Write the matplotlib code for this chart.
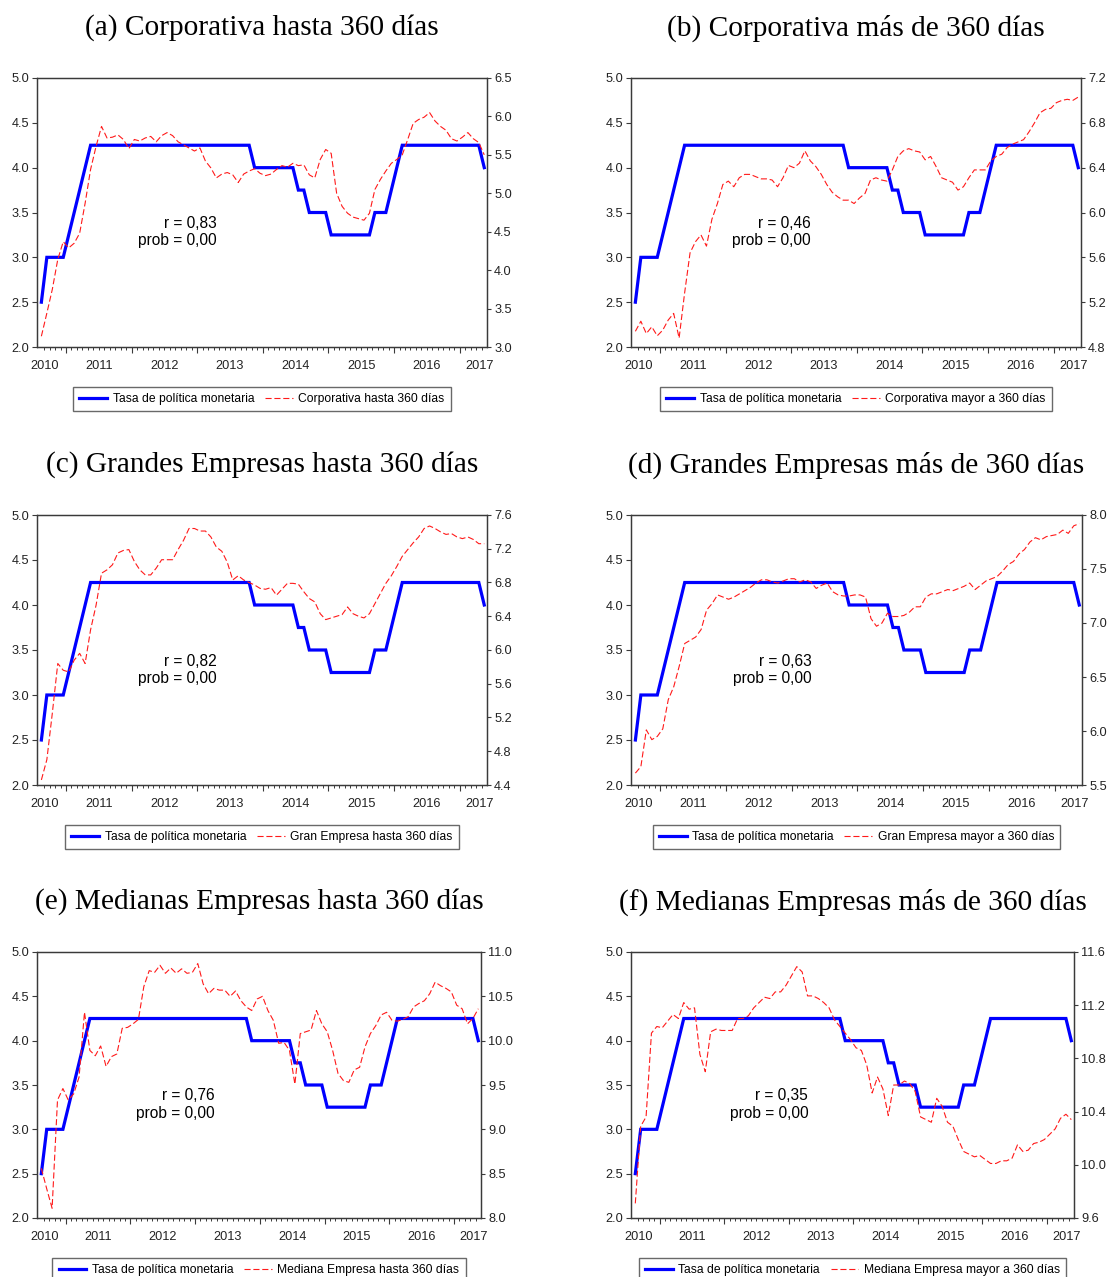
import numpy as np
import pandas as pd
import matplotlib
matplotlib.use("Agg")
import matplotlib.pyplot as plt
from matplotlib.ticker import FormatStrFormatter

plt.rcParams["font.family"] = ["Liberation Sans", "DejaVu Sans"]

# ---------- data (monthly, 2010M08 - 2017M05) ----------
START, END = "2010-08", "2017-05"

tasa_politica = [
    2.50, 3.00, 3.00, 3.00, 3.00, 3.25, 3.50, 3.75, 4.00, 4.25,
    4.25, 4.25, 4.25, 4.25, 4.25, 4.25, 4.25, 4.25, 4.25, 4.25,
    4.25, 4.25, 4.25, 4.25, 4.25, 4.25, 4.25, 4.25, 4.25, 4.25,
    4.25, 4.25, 4.25, 4.25, 4.25, 4.25, 4.25, 4.25, 4.25, 4.00,
    4.00, 4.00, 4.00, 4.00, 4.00, 4.00, 4.00, 3.75, 3.75, 3.50,
    3.50, 3.50, 3.50, 3.25, 3.25, 3.25, 3.25, 3.25, 3.25, 3.25,
    3.25, 3.50, 3.50, 3.50, 3.75, 4.00, 4.25, 4.25, 4.25, 4.25,
    4.25, 4.25, 4.25, 4.25, 4.25, 4.25, 4.25, 4.25, 4.25, 4.25,
    4.25, 4.00,
]

corp_hasta_360 = [
    3.14, 3.44, 3.75, 4.14, 4.37, 4.29, 4.35, 4.48, 4.87, 5.31,
    5.61, 5.87, 5.72, 5.73, 5.76, 5.70, 5.58, 5.70, 5.68, 5.72,
    5.74, 5.67, 5.75, 5.79, 5.75, 5.67, 5.63, 5.59, 5.55, 5.59,
    5.42, 5.33, 5.20, 5.25, 5.27, 5.24, 5.14, 5.25, 5.29, 5.32,
    5.26, 5.23, 5.25, 5.31, 5.36, 5.34, 5.39, 5.36, 5.37, 5.24,
    5.20, 5.44, 5.57, 5.52, 5.00, 4.83, 4.74, 4.69, 4.67, 4.65,
    4.74, 5.05, 5.18, 5.29, 5.39, 5.44, 5.50, 5.70, 5.91, 5.96,
    5.99, 6.05, 5.94, 5.87, 5.82, 5.71, 5.68, 5.73, 5.79, 5.71,
    5.66, 5.50,
]

corp_mayor_360 = [
    4.94, 5.03, 4.92, 4.98, 4.90, 4.95, 5.04, 5.10, 4.88, 5.28,
    5.64, 5.74, 5.80, 5.70, 5.94, 6.08, 6.25, 6.28, 6.23, 6.31,
    6.34, 6.34, 6.32, 6.30, 6.30, 6.29, 6.23, 6.31, 6.42, 6.40,
    6.44, 6.55, 6.46, 6.41, 6.34, 6.25, 6.18, 6.14, 6.11, 6.11,
    6.08, 6.13, 6.17, 6.29, 6.31, 6.29, 6.28, 6.38, 6.50, 6.55,
    6.57, 6.55, 6.54, 6.47, 6.50, 6.41, 6.31, 6.29, 6.27, 6.20,
    6.23, 6.31, 6.38, 6.38, 6.38, 6.46, 6.50, 6.52, 6.58, 6.61,
    6.63, 6.65, 6.72, 6.80, 6.89, 6.92, 6.93, 6.98, 7.00, 7.01,
    7.00, 7.03,
]

gran_hasta_360 = [
    4.46, 4.70, 5.25, 5.84, 5.76, 5.74, 5.88, 5.96, 5.84, 6.24,
    6.53, 6.91, 6.95, 7.01, 7.15, 7.18, 7.19, 7.05, 6.95, 6.89,
    6.89, 6.97, 7.07, 7.07, 7.07, 7.19, 7.30, 7.44, 7.44, 7.41,
    7.41, 7.34, 7.22, 7.17, 7.04, 6.83, 6.88, 6.83, 6.80, 6.77,
    6.73, 6.72, 6.74, 6.65, 6.72, 6.79, 6.79, 6.78, 6.69, 6.61,
    6.57, 6.43, 6.36, 6.38, 6.40, 6.42, 6.51, 6.43, 6.40, 6.38,
    6.43, 6.55, 6.67, 6.79, 6.88, 6.99, 7.11, 7.19, 7.27, 7.34,
    7.44, 7.47, 7.44, 7.40, 7.37, 7.38, 7.34, 7.32, 7.34, 7.31,
    7.26, 7.26,
]

gran_mayor_360 = [
    5.61, 5.67, 6.01, 5.92, 5.95, 6.02, 6.29, 6.41, 6.60, 6.81,
    6.84, 6.87, 6.94, 7.12, 7.18, 7.26, 7.24, 7.22, 7.24, 7.27,
    7.30, 7.33, 7.37, 7.40, 7.40, 7.38, 7.37, 7.39, 7.41, 7.41,
    7.38, 7.40, 7.38, 7.32, 7.35, 7.37, 7.29, 7.26, 7.25, 7.25,
    7.26, 7.26, 7.24, 7.04, 6.97, 7.00, 7.09, 7.06, 7.06, 7.07,
    7.10, 7.15, 7.15, 7.24, 7.27, 7.27, 7.29, 7.31, 7.30, 7.32,
    7.34, 7.37, 7.31, 7.35, 7.39, 7.41, 7.43, 7.48, 7.54, 7.57,
    7.64, 7.68, 7.75, 7.79, 7.77, 7.80, 7.81, 7.82, 7.86, 7.83,
    7.90, 7.92,
]

mediana_hasta_360 = [
    8.56, 8.33, 8.11, 9.33, 9.46, 9.33, 9.40, 9.59, 10.32, 9.89,
    9.83, 9.94, 9.71, 9.82, 9.85, 10.14, 10.15, 10.19, 10.24, 10.61,
    10.79, 10.77, 10.85, 10.76, 10.82, 10.76, 10.81, 10.76, 10.77, 10.87,
    10.64, 10.53, 10.59, 10.57, 10.57, 10.50, 10.56, 10.45, 10.38, 10.34,
    10.47, 10.50, 10.34, 10.23, 9.97, 9.98, 9.89, 9.51, 10.08, 10.10,
    10.12, 10.34, 10.19, 10.10, 9.89, 9.63, 9.55, 9.53, 9.67, 9.70,
    9.93, 10.08, 10.17, 10.29, 10.32, 10.23, 10.22, 10.24, 10.27, 10.38,
    10.42, 10.45, 10.53, 10.66, 10.62, 10.59, 10.55, 10.40, 10.36, 10.19,
    10.25, 10.36,
]

mediana_mayor_360 = [
    9.71, 10.29, 10.36, 10.99, 11.04, 11.03, 11.08, 11.13, 11.10, 11.22,
    11.17, 11.18, 10.83, 10.70, 11.00, 11.02, 11.01, 11.01, 11.01, 11.10,
    11.10, 11.12, 11.18, 11.22, 11.26, 11.25, 11.30, 11.30, 11.35, 11.42,
    11.49, 11.45, 11.27, 11.27, 11.25, 11.22, 11.18, 11.09, 11.04, 10.99,
    10.94, 10.88, 10.86, 10.75, 10.54, 10.66, 10.57, 10.37, 10.60, 10.60,
    10.63, 10.61, 10.55, 10.36, 10.34, 10.32, 10.50, 10.44, 10.32, 10.29,
    10.19, 10.10, 10.08, 10.06, 10.07, 10.04, 10.01, 10.01, 10.03, 10.03,
    10.05, 10.15, 10.10, 10.11, 10.16, 10.17, 10.19, 10.23, 10.27, 10.35,
    10.38, 10.34,
]

titles = [
    "(a) Corporativa hasta 360 días", "(b) Corporativa más de 360 días",
    "(c) Grandes Empresas hasta 360 días", "(d) Grandes Empresas más de 360 días",
    "(e) Medianas Empresas hasta 360 días", "(f) Medianas Empresas más de 360 días",
]
series_labels = [
    "Corporativa hasta 360 días", "Corporativa mayor a 360 días",
    "Gran Empresa hasta 360 días", "Gran Empresa mayor a 360 días",
    "Mediana Empresa hasta 360 días", "Mediana Empresa mayor a 360 días",
]
series = [corp_hasta_360, corp_mayor_360, gran_hasta_360,
          gran_mayor_360, mediana_hasta_360, mediana_mayor_360]
corr_r = ["0,83", "0,46", "0,82", "0,63", "0,76", "0,35"]
corr_prob = ["0,00"] * 6
right_limits = [(3.0, 6.5, 0.5), (4.8, 7.2, 0.4), (4.4, 7.6, 0.4),
                (5.5, 8.0, 0.5), (8.0, 11.0, 0.5), (9.6, 11.6, 0.4)]

# ---------- layout (pixels, top-left origin) ----------
W, H = 1112, 1277
AX_RECTS = [
    (37, 78, 487, 347), (631, 78, 1081, 347),
    (37, 515, 487, 785), (631, 515, 1082, 785),
    (37, 952, 481, 1218), (631, 952, 1074, 1218),
]
TITLE_Y = [28, 28, 465, 465, 902, 902]
BLUE = "#0000ff"
RED = "#ff1a1a"
FRAME = "#3a3a3a"


def px_rect(l, t, r, b):
    return [l / W, 1 - b / H, (r - l) / W, (b - t) / H]


def draw_panel(fig, k):
    l, t, r, b = AX_RECTS[k]
    ax = fig.add_axes(px_rect(l, t, r, b))
    ax2 = ax.twinx()

    periods = pd.period_range(START, END, freq="M")
    x = np.arange(len(periods))
    years = periods.year.to_numpy()

    ln1, = ax.plot(x, tasa_politica, color=BLUE, lw=2.3,
                   solid_joinstyle="miter", zorder=3)
    ln2, = ax2.plot(x, series[k], color=RED, lw=0.8,
                    linestyle=(0, (5.5, 2.5)), zorder=4)

    xlo, xhi = -0.8, len(x) - 0.5
    ax.set_xlim(xlo, xhi)
    ax.set_ylim(2.0, 5.0)
    ax.set_yticks(np.arange(2.0, 5.01, 0.5))
    ax.yaxis.set_major_formatter(FormatStrFormatter("%.1f"))

    lo, hi, step = right_limits[k]
    ax2.set_ylim(lo, hi)
    ax2.set_yticks(np.arange(lo, hi + step / 2, step))
    ax2.yaxis.set_major_formatter(FormatStrFormatter("%.1f"))

    # year boundaries = major ticks, months = minor ticks
    bounds = x[1:][np.diff(years) != 0] - 0.5
    ax.set_xticks(bounds)
    ax.set_xticklabels([])
    ax.set_xticks(x[1:] - 0.5, minor=True)
    ax.tick_params(axis="x", which="major", direction="out", length=4.3,
                   width=0.8, color=FRAME)
    ax.tick_params(axis="x", which="minor", direction="out", length=2.2,
                   width=0.7, color=FRAME)
    ax.tick_params(axis="y", direction="out", length=3.6, width=0.8,
                   color=FRAME, labelsize=9.2, pad=2, labelcolor="#222222")
    ax2.tick_params(axis="y", direction="out", length=3.2, width=0.8,
                    color=FRAME, labelsize=9.2, pad=2, labelcolor="#222222")

    # year labels centred in each year's span
    uniq = np.unique(years)
    for j, yr in enumerate(uniq):
        idx = x[years == yr]
        if j == 0:
            pos = xlo + 1.4
        elif j == len(uniq) - 1:
            pos = xhi - 1.4
        else:
            pos = (idx[0] + idx[-1]) / 2
        ax.annotate(str(yr), xy=(pos, 0), xycoords=("data", "axes fraction"),
                    xytext=(0, -9.2), textcoords="offset points",
                    ha="center", va="top", fontsize=9.2, color="#222222")

    for a in (ax, ax2):
        for s in a.spines.values():
            s.set_color(FRAME)
            s.set_linewidth(0.9)

    ax.text(0.40, 0.427, f"r = {corr_r[k]}\nprob = {corr_prob[k]}",
            transform=ax.transAxes, ha="right", va="center",
            multialignment="right", fontsize=11.2, linespacing=1.2,
            color="black")

    ax_h = b - t
    leg = ax.legend([ln1, ln2], ["Tasa de política monetaria", series_labels[k]],
                    loc="upper center", bbox_to_anchor=(0.5, -40 / ax_h),
                    ncol=2, fontsize=8.7, frameon=True, fancybox=False,
                    borderaxespad=0, borderpad=0.5, handlelength=2.3,
                    handletextpad=0.45, columnspacing=0.9)
    leg.get_frame().set_edgecolor("#444444")
    leg.get_frame().set_linewidth(1.0)

    fig.text(((l + r) / 2) / W, 1 - TITLE_Y[k] / H, titles[k],
             ha="center", va="center", fontsize=21.2,
             family=["Liberation Serif", "DejaVu Serif"])


def main():
    fig = plt.figure(figsize=(W / 100, H / 100), dpi=100)
    for k in range(6):
        draw_panel(fig, k)
    fig.savefig("out.png", dpi=100)
    plt.close(fig)


if __name__ == "__main__":
    main()
